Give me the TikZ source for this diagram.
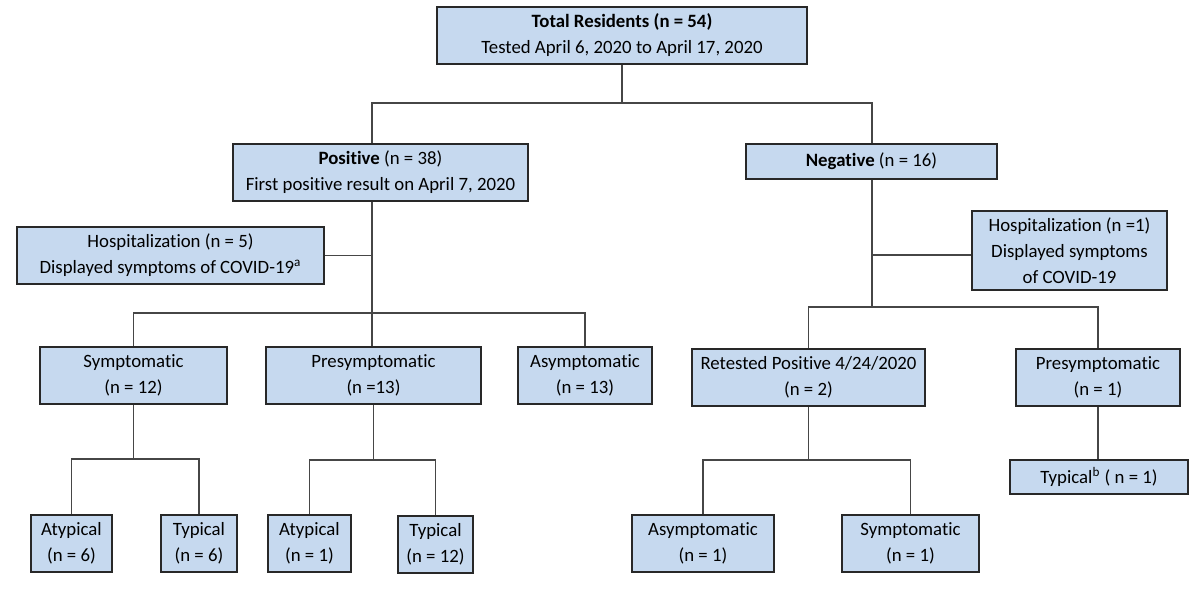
\documentclass[tikz,border=0pt]{standalone}
\usepackage{fontspec}
\setmainfont[Ligatures={NoCommon}]{Carlito}
\definecolor{boxfill}{RGB}{198,217,239}
\definecolor{boxline}{RGB}{40,40,40}
\definecolor{conn}{RGB}{70,70,70}
\begin{document}
\begin{tikzpicture}[x=0.5pt,y=-0.5pt,
  bx/.style={draw=boxline, line width=0.8pt, fill=boxfill, align=center, inner sep=0pt,
    font=\fontsize{9.4}{13}\selectfont, minimum height=28.5pt},
  ln/.style={draw=conn, line width=0.6pt}]
\useasboundingbox (0,0) rectangle (1193,595);
% nodes
\node[bx, minimum width=185pt] (top) at (622,35.5) {\textbf{Total Residents (n = 54)}\\Tested April 6, 2020 to April 17, 2020};
\node[bx, minimum width=147.5pt] (pos) at (380.5,172.5) {\textbf{Positive} (n = 38)\\First positive result on April 7, 2020};
\node[bx, minimum width=125.5pt, minimum height=17.5pt] (neg) at (871.5,161.5) {\textbf{Negative} (n = 16)};
\node[bx, minimum width=153.5pt] (hosp5) at (170.5,255.5) {Hospitalization (n = 5)\\Displayed symptoms of COVID-19\textsuperscript{a}};
\node[bx, minimum width=97.5pt, minimum height=39.5pt] (hosp1) at (1069.5,250.5) {Hospitalization (n =1)\\Displayed symptoms\\of COVID-19};
\node[bx, minimum width=93.5pt] (symp) at (133.5,375.5) {Symptomatic\\(n = 12)};
\node[bx, minimum width=107.5pt] (presymp) at (373.5,375.5) {Presymptomatic\\(n =13)};
\node[bx, minimum width=67pt] (asymp) at (585,375.5) {Asymptomatic\\(n = 13)};
\node[bx, minimum width=116.5pt] (retest) at (808.5,377.5) {Retested Positive 4/24/2020\\(n = 2)};
\node[bx, minimum width=82pt] (presymp2) at (1098,377.5) {Presymptomatic\\(n = 1)};
\node[bx, minimum width=40.5pt] (atyp6) at (71.5,543.5) {Atypical\\(n = 6)};
\node[bx, minimum width=38pt] (typ6) at (199,543.5) {Typical\\(n = 6)};
\node[bx, minimum width=41.5pt] (atyp1) at (309.5,543.5) {Atypical\\(n = 1)};
\node[bx, minimum width=37.5pt] (typ12) at (435.5,544.5) {Typical\\(n = 12)};
\node[bx, minimum width=71pt] (asym1) at (703,543.5) {Asymptomatic\\(n = 1)};
\node[bx, minimum width=68.5pt] (sym1) at (910.5,543.5) {Symptomatic\\(n = 1)};
\node[bx, minimum width=89pt, minimum height=17pt] (typb) at (1099,477) {Typical\textsuperscript{b} ( n = 1)};
% junctions
\coordinate (jt) at (622,103);
\coordinate (pl) at (372,103);
\coordinate (nr) at (872,103);
\coordinate (jp) at (372,313);
\coordinate (jn) at (872,307);
\coordinate (js) at (133.5,459);
\coordinate (jq) at (373.5,460);
\coordinate (jr) at (808.5,460);
% connectors
\draw[ln] (top.south) -- (jt);
\draw[ln] (pos.north -| pl) -- (pl) -- (nr) -- (neg.north -| nr);
\draw[ln] (pos.south -| pl) -- (jp);
\draw[ln] (hosp5.east) -- (hosp5.east -| jp);
\draw[ln] (symp.north) |- (jp);
\draw[ln] (jp) -| (asymp.north);
\draw[ln] (jp) -- (presymp.north -| jp);
\draw[ln] (neg.south -| nr) -- (jn);
\draw[ln] ([yshift=-2.25pt]hosp1.west) -- ([yshift=-2.25pt]hosp1.west -| nr);
\draw[ln] (retest.north) |- (jn);
\draw[ln] (jn) -| (presymp2.north);
\draw[ln] (symp.south) -- (js);
\draw[ln] (atyp6.north) |- (js) -| (typ6.north);
\draw[ln] (presymp.south) -- (jq);
\draw[ln] (atyp1.north) |- (jq) -| (typ12.north);
\draw[ln] (retest.south) -- (jr);
\draw[ln] (asym1.north) |- (jr) -| (sym1.north);
\draw[ln] (presymp2.south) -- (presymp2.south |- typb.north);
\end{tikzpicture}
\end{document}
